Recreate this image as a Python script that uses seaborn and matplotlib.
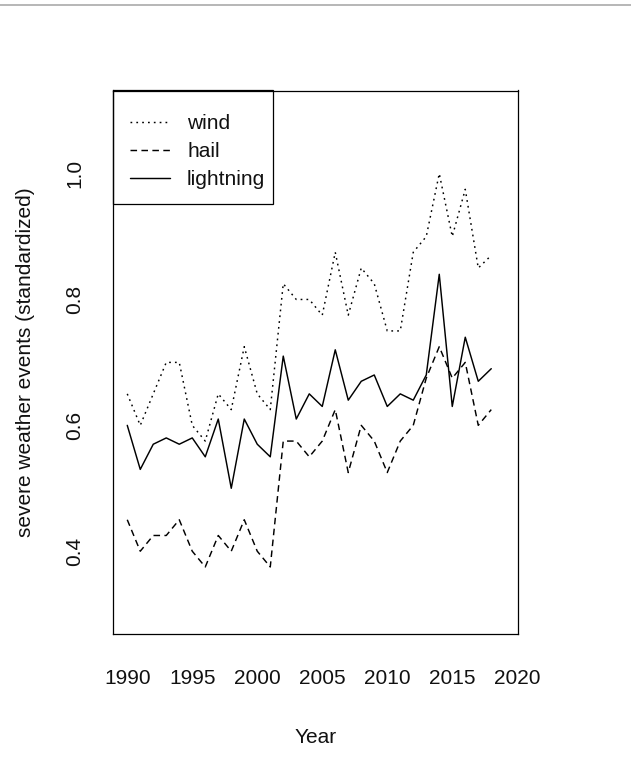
import matplotlib
matplotlib.use("Agg")
import matplotlib.pyplot as plt
from matplotlib.lines import Line2D
from matplotlib.patches import Rectangle
import numpy as np
import pandas as pd
import seaborn as sns

# Annual severe weather event counts, standardized
years = list(range(1990, 2019))
wind = [0.65, 0.60, 0.65, 0.70, 0.70, 0.60, 0.575, 0.65, 0.625, 0.725,
        0.65, 0.625, 0.825, 0.80, 0.80, 0.775, 0.875, 0.775, 0.85, 0.825,
        0.75, 0.75, 0.875, 0.90, 1.00, 0.90, 0.975, 0.85, 0.87]
hail = [0.45, 0.40, 0.425, 0.425, 0.45, 0.40, 0.375, 0.425, 0.40, 0.45,
        0.40, 0.375, 0.575, 0.575, 0.55, 0.575, 0.625, 0.525, 0.60, 0.575,
        0.525, 0.575, 0.60, 0.675, 0.725, 0.675, 0.70, 0.60, 0.625]
lightning = [0.60, 0.53, 0.57, 0.58, 0.57, 0.58, 0.55, 0.61, 0.50, 0.61,
             0.57, 0.55, 0.71, 0.61, 0.65, 0.63, 0.72, 0.64, 0.67, 0.68,
             0.63, 0.65, 0.64, 0.68, 0.84, 0.63, 0.74, 0.67, 0.69]

series_names = ["wind", "hail", "lightning"]
x_ticks = [1990, 1995, 2000, 2005, 2010, 2015, 2020]
y_ticks = [0.4, 0.6, 0.8, 1.0]

df = pd.DataFrame({"Year": years, "wind": wind, "hail": hail,
                   "lightning": lightning})
long = df.melt(id_vars="Year", var_name="type", value_name="events")

sns.set_style("white")
plt.rcParams["font.family"] = ["Liberation Sans", "DejaVu Sans"]
FS = 15

fig = plt.figure(figsize=(6.31, 7.73), dpi=100)
ax = fig.add_axes([112.7 / 631, 1 - 634.3 / 773, 405.6 / 631, 543.8 / 773])

styles = {"wind": (0, (1.2, 2.8)), "hail": (0, (4.5, 3.0)),
          "lightning": "-"}
handles = []
for name in series_names:
    sub = long[long["type"] == name]
    sns.lineplot(data=sub, x="Year", y="events", ax=ax, color="black",
                 linewidth=1.05, linestyle=styles[name], legend=False)
    handles.append(Line2D([], [], color="black", linewidth=1.05,
                          linestyle=styles[name], label=name))

ax.set_xlim(1988.88, 2020.08)
ax.set_ylim(0.268, 1.132)
ax.set_xticks(x_ticks)
ax.set_xticklabels([str(t) for t in x_ticks])
ax.set_yticks(y_ticks)
ax.set_yticklabels([f"{t:.1f}" for t in y_ticks])

for side in ["top", "right", "bottom", "left"]:
    ax.spines[side].set_visible(True)
    ax.spines[side].set_color("black")
    ax.spines[side].set_linewidth(0.9)

ax.tick_params(axis="both", which="major", direction="out", length=10,
               width=0.9, color="black", labelsize=FS, labelcolor="#111111")
ax.tick_params(axis="x", pad=15)
ax.tick_params(axis="y", pad=10.5, labelrotation=90)
for lab in ax.get_yticklabels():
    lab.set_verticalalignment("center")

ax.set_xlabel("Year", fontsize=FS, color="#111111", va="center")
ax.xaxis.set_label_coords(0.5, -0.1903)
ax.set_ylabel("severe weather events (standardized)", fontsize=FS,
              color="#111111", va="center")
ax.yaxis.set_label_coords(-0.2162, 0.5)

# legend entries without a frame, boxed against the top-left corner
leg = ax.legend(handles=handles, loc="upper left",
                bbox_to_anchor=(0.0427, 0.9567), frameon=False, fontsize=FS,
                borderpad=0, borderaxespad=0, handlelength=1.92,
                handletextpad=0.82, labelspacing=0.43)
for t in leg.get_texts():
    t.set_color("#111111")
ax.add_patch(Rectangle((0, 0.7913), 0.3945, 0.2087, transform=ax.transAxes,
                       fill=False, edgecolor="black", linewidth=0.9,
                       clip_on=False))

# thin grey rule along the top edge of the figure
fig.add_artist(Line2D([0, 1], [1 - 4.8 / 773, 1 - 4.8 / 773],
                      transform=fig.transFigure, color="#aaaaaa",
                      linewidth=1.2))

fig.savefig("out.png", dpi=100)
